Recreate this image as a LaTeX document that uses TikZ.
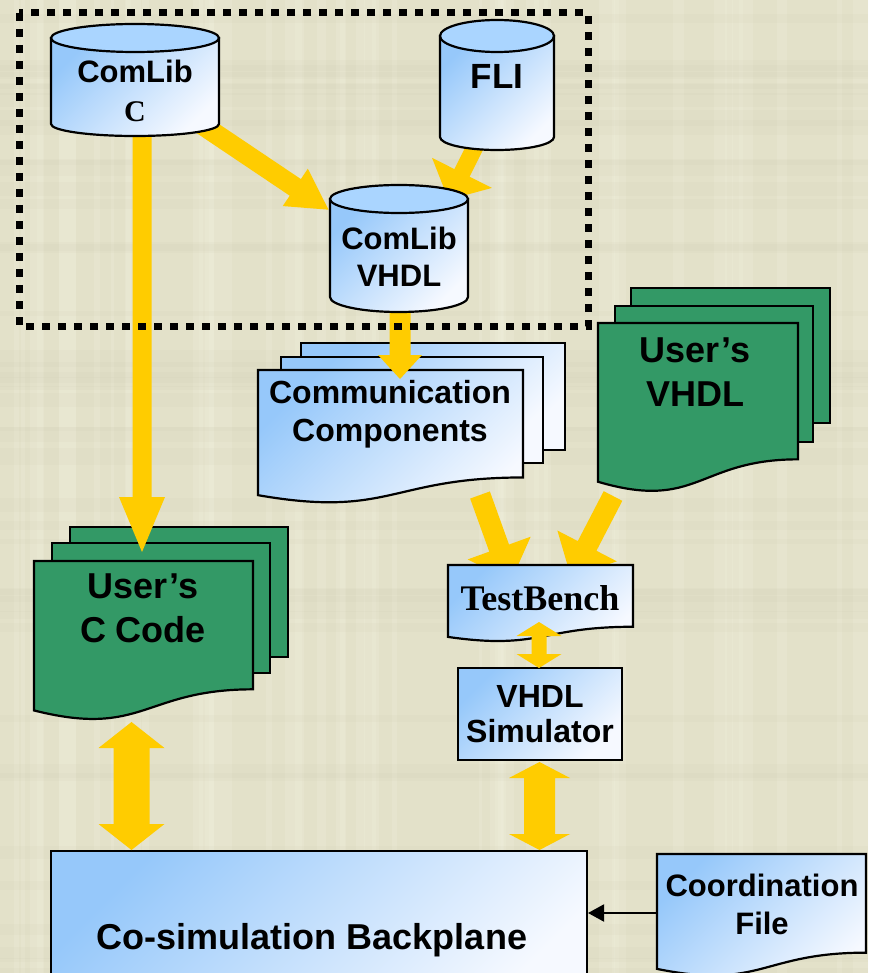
\documentclass[tikz,border=0pt]{standalone}
\usepackage{fontspec}
\setmainfont{Liberation Sans}
\newfontfamily\tms{Liberation Serif}
\usetikzlibrary{arrows.meta,calc}
\definecolor{bgc}{RGB}{227,225,201}
\definecolor{bgl}{RGB}{240,239,220}
\definecolor{bgd}{RGB}{205,203,178}
\definecolor{blueA}{RGB}{150,200,250}
\definecolor{blueB}{RGB}{246,249,255}
\definecolor{capblue}{RGB}{170,213,255}
\definecolor{greenC}{RGB}{51,153,102}
\definecolor{yel}{RGB}{255,204,0}
\tikzset{
  outl/.style={draw=black, line width=2.2pt, line join=miter},
  bshade/.style={outl, top color=blueA, bottom color=blueB, shading angle=45},
  gpage/.style={outl, fill=greenC},
  lbl/.style={anchor=base, inner sep=0pt, font=\bfseries\fontsize{31pt}{37pt}\selectfont},
  lblbig/.style={lbl, font=\bfseries\fontsize{36pt}{43pt}\selectfont},
  lblser/.style={anchor=base, inner sep=0pt, font=\tms\bfseries\fontsize{#1}{#1}\selectfont},
}
% document shape: style, x, y, w, h
\newcommand\docshape[5]{\draw[#1] (#2,#3) -- ({#2+#4},#3) -- ({#2+#4},{#3+0.802*#5}) .. controls ({#2+0.5*#4},{#3+0.802*#5}) and ({#2+0.5*#4},{#3+1.107*#5}) .. (#2,{#3+0.934*#5}) -- cycle;}
\newcommand\pagerect[5]{\draw[#1] (#2,#3) rectangle (#4,#5);}
% cylinder: xl, xr, top cy, bottom cy, ry top, ry bottom
\newcommand\cyl[6]{%
  \pgfmathsetmacro\cylcx{(#1+#2)/2}\pgfmathsetmacro\cylrx{(#2-#1)/2}%
  \draw[bshade] (#1,#3) -- (#1,#4) arc[start angle=180,end angle=360,x radius=\cylrx pt,y radius=#6pt] -- (#2,#3) -- cycle;
  \draw[outl, fill=capblue] (\cylcx,#3) ellipse[x radius=\cylrx pt, y radius=#5pt];}
% block arrow: from, to, half shaft, half head, head length
\newcommand\yarr[5]{%
  \coordinate (tmpm) at ($(#2)!#5!(#1)$);
  \fill[yel] ($(#1)!#3!90:(#2)$) -- ($(tmpm)!#3!90:(#2)$) -- ($(tmpm)!#4!90:(#2)$) -- (#2) -- ($(tmpm)!#4!-90:(#2)$) -- ($(tmpm)!#3!-90:(#2)$) -- ($(#1)!#3!-90:(#2)$) -- cycle;}
\newcommand\yarrd[5]{%
  \coordinate (tmpm) at ($(#2)!#5!(#1)$);
  \coordinate (tmpn) at ($(#1)!#5!(#2)$);
  \fill[yel] (#1) -- ($(tmpn)!#4!90:(#2)$) -- ($(tmpn)!#3!90:(#2)$) -- ($(tmpm)!#3!90:(#2)$) -- ($(tmpm)!#4!90:(#2)$) -- (#2) -- ($(tmpm)!#4!-90:(#2)$) -- ($(tmpm)!#3!-90:(#2)$) -- ($(tmpn)!#3!-90:(#2)$) -- ($(tmpn)!#4!-90:(#2)$) -- cycle;}
\begin{document}
\begin{tikzpicture}[x=1pt,y=-1pt]
\useasboundingbox (0,0) rectangle (868,973);
\clip (0,0) rectangle (868,973);
\fill[bgc] (0,0) rectangle (868,973);
% faint cloth texture of the background
\pgfmathsetseed{42}
\foreach \i in {1,...,45}{
  \pgfmathsetmacro\tx{rnd*868}\pgfmathsetmacro\tw{3+rnd*14}
  \fill[bgl, opacity=0.28] (\tx,0) rectangle ({\tx+\tw},973);}
\foreach \i in {1,...,45}{
  \pgfmathsetmacro\ty{rnd*973}\pgfmathsetmacro\th{3+rnd*14}
  \fill[bgd, opacity=0.11] (0,\ty) rectangle (868,{\ty+\th});}

% connector end points
\coordinate (clcA) at (195,120);   \coordinate (vhdlA) at (328.5,209.7);
\coordinate (fliA) at (482,133);   \coordinate (vhdlB) at (448.5,199.7);
\coordinate (commA) at (480,495);  \coordinate (tbA) at (511,581);
\coordinate (uvA) at (613,496);    \coordinate (tbB) at (571,577);
\coordinate (clcB) at (142,125);   \coordinate (ucA) at (142,552);
\coordinate (vhdlC) at (400,300);  \coordinate (commB) at (400,379);
\coordinate (tbC) at (539,622);    \coordinate (simA) at (539,668);
\coordinate (ucB) at (131.5,722);  \coordinate (bpA) at (131.5,850);
\coordinate (simB) at (539.5,762); \coordinate (bpB) at (539.5,850);
\coordinate (cfL) at (657,913);    \coordinate (bpR) at (588,913);

% arrows whose heads are hidden behind shapes
\yarr{clcA}{vhdlA}{10pt}{22.5pt}{40pt}
\yarr{fliA}{vhdlB}{8.5pt}{33.5pt}{30pt}
\yarr{commA}{tbA}{10.5pt}{33.5pt}{35pt}
\yarr{uvA}{tbB}{10.5pt}{33.5pt}{35pt}

% Communication Components stack
\pagerect{bshade}{301}{343}{565}{450}
\pagerect{bshade}{281}{357}{543}{463}
\docshape{bshade}{258}{370}{265}{134}
% User's VHDL stack
\pagerect{gpage}{631}{288}{830}{423}
\pagerect{gpage}{615}{306}{813}{442}
\docshape{gpage}{598}{323}{200}{170}
% User's C Code stack
\pagerect{gpage}{70}{527}{288}{657}
\pagerect{gpage}{52}{543}{270}{673}
\docshape{gpage}{34}{561}{219}{160}

% arrows drawn over the stacks
\yarr{clcB}{ucA}{9.5pt}{23pt}{55pt}
\yarr{vhdlC}{commB}{10.5pt}{22pt}{24pt}

% cylinders
\cyl{51}{219}{38}{124}{14}{12}
\cyl{440}{554}{36}{137}{16}{13}
\cyl{330}{468}{199}{297}{14}{15}

% TestBench, simulator, backplane, coordination file
\docshape{bshade}{448}{565}{185}{77}
\draw[bshade] (458,668) rectangle (622,760);
\draw[bshade] (51,851) rectangle (587,1010);
\docshape{bshade}{657}{854}{209}{123}

% double arrows
\yarrd{tbC}{simA}{7.5pt}{22.5pt}{14pt}
\yarrd{ucB}{bpA}{18pt}{33pt}{26pt}
\yarrd{simB}{bpB}{15.5pt}{30.5pt}{16pt}

% coordination file -> backplane
\draw[line width=2pt, -{Triangle[width=17pt,length=16pt]}] (cfL) -- (bpR);

% dotted frame
\draw[line width=7pt, dash pattern=on 8pt off 8pt] (19,13) rectangle (588,326);

% labels
\node[lbl] (clc1) at (135,83) {ComLib};
\node[lblser=30pt] (clc2) at (135,122) {C};
\node[lbl, font=\bfseries\fontsize{35pt}{40pt}\selectfont] (fli) at (497,88.5) {FLI};
\node[lbl] (vh1) at (399,250) {ComLib};
\node[lbl] (vh2) at (399,287) {VHDL};
\node[lbl, font=\bfseries\fontsize{32pt}{38pt}\selectfont] (cc1) at (390,403.5) {Communication};
\node[lbl, font=\bfseries\fontsize{32pt}{38pt}\selectfont] (cc2) at (390,441) {Components};
\node[lblbig] (uv1) at (695,362) {User’s};
\node[lblbig] (uv2) at (695,406) {VHDL};
\node[lblbig] (uc1) at (143,598) {User’s};
\node[lblbig] (uc2) at (143,642) {C Code};
\node[lblser=36pt] (tb) at (540,610) {TestBench};
\node[lbl, font=\bfseries\fontsize{32pt}{38pt}\selectfont] (sim1) at (540,707) {VHDL};
\node[lbl, font=\bfseries\fontsize{32pt}{38pt}\selectfont] (sim2) at (540,742) {Simulator};
\node[lblbig] (bp) at (312,949) {Co-simulation Backplane};
\node[lbl] (cf1) at (762,896) {Coordination};
\node[lbl] (cf2) at (762,934) {File};
\end{tikzpicture}
\end{document}
